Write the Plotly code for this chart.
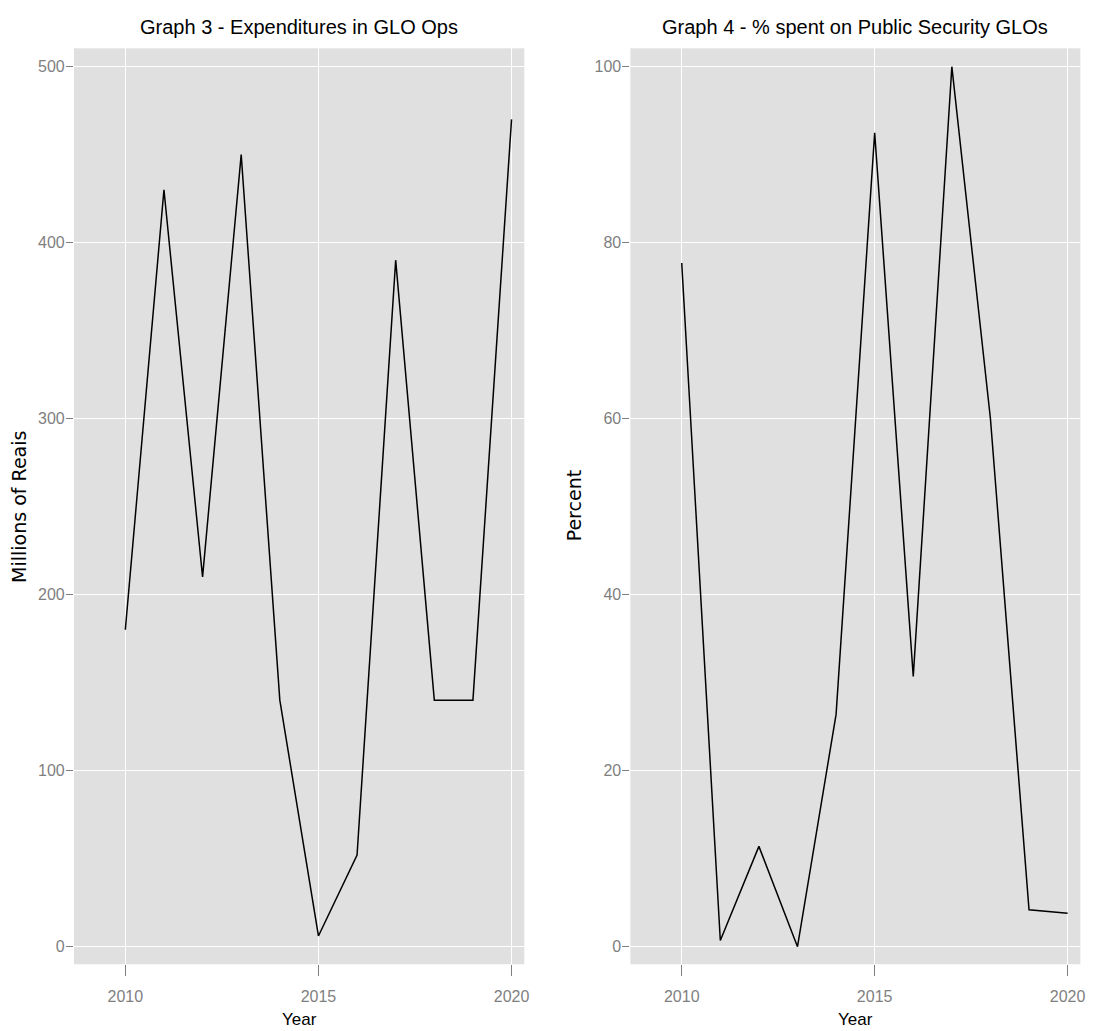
import plotly.graph_objects as go

years = [2010, 2011, 2012, 2013, 2014, 2015, 2016, 2017, 2018, 2019, 2020]
expenditures = [180, 430, 210, 450, 140, 6, 52, 390, 140, 140, 470]
percent_public = [77.7, 0.7, 11.4, 0.0, 26.4, 92.5, 30.7, 100.0, 60.0, 4.2, 3.8]

title_left = "Graph 3 - Expenditures in GLO Ops"
title_right = "Graph 4 - % spent on Public Security GLOs"
ylab_left = "Millions of Reais"
ylab_right = "Percent"
xlab = "Year"

W, H = 1096, 1031
NARROW = "Liberation Sans Narrow, Arial Narrow, Liberation Sans, Arial, sans-serif"
WIDE = "DejaVu Sans, Verdana, sans-serif"

fig = go.Figure()
fig.add_trace(go.Scatter(x=years, y=expenditures, mode="lines",
                         line=dict(color="black", width=1.5), xaxis="x", yaxis="y",
                         showlegend=False))
fig.add_trace(go.Scatter(x=years, y=percent_public, mode="lines",
                         line=dict(color="black", width=1.5), xaxis="x2", yaxis="y2",
                         showlegend=False))

def px_x(v):
    return v / W

def px_y(v):
    return (H - v) / H

dom_left = [px_x(74.3), px_x(526.7)]
dom_right = [px_x(633.3), px_x(1085.3)]
dom_y = [px_y(964.3), px_y(48.3)]

grid = dict(showgrid=True, gridcolor="white", gridwidth=1.2, zeroline=False,
            showline=False, ticks="outside", tickcolor="#7F7F7F", tickwidth=1,
            tickfont=dict(family=NARROW, size=16, color="#7F7F7F"))
xcommon = dict(ticklen=11, ticklabelstandoff=6, **grid)
ycommon = dict(ticklen=7, ticklabelstandoff=-2, **grid)

fig.update_layout(
    width=W, height=H,
    margin=dict(l=0, r=0, t=0, b=0),
    paper_bgcolor="white",
    plot_bgcolor="#E0E0E0",
    xaxis=dict(domain=dom_left, range=[2008.67, 2020.33], tickvals=[2010, 2015, 2020],
               anchor="y", **xcommon),
    yaxis=dict(domain=dom_y, range=[-10.1, 510.4], tickvals=[0, 100, 200, 300, 400, 500],
               anchor="x", **ycommon),
    xaxis2=dict(domain=dom_right, range=[2008.67, 2020.33], tickvals=[2010, 2015, 2020],
                anchor="y2", **xcommon),
    yaxis2=dict(domain=dom_y, range=[-2.0, 102.09], tickvals=[0, 20, 40, 60, 80, 100],
                anchor="x2", **ycommon),
)

ann = []
for txt, cx in ((title_left, 300.5), (title_right, 859.3)):
    ann.append(dict(text=txt, x=px_x(cx), y=px_y(27), xref="paper", yref="paper",
                    showarrow=False, xanchor="center", yanchor="middle",
                    font=dict(family=NARROW, size=20, color="black")))
for cx in (300.5, 859.3):
    ann.append(dict(text=xlab, x=px_x(cx), y=px_y(1019), xref="paper", yref="paper",
                    showarrow=False, xanchor="center", yanchor="middle",
                    font=dict(family=NARROW, size=17, color="black")))
ann.append(dict(text=ylab_left, x=px_x(19), y=px_y(507), xref="paper", yref="paper",
                showarrow=False, xanchor="center", yanchor="middle", textangle=-90,
                font=dict(family=WIDE, size=19, color="black")))
ann.append(dict(text=ylab_right, x=px_x(577), y=px_y(505), xref="paper", yref="paper",
                showarrow=False, xanchor="center", yanchor="middle", textangle=-90,
                font=dict(family=WIDE, size=19, color="black")))
fig.update_layout(annotations=ann)

fig.write_html(
    "out.html",
    config={"displayModeBar": False},
    post_script="document.body.style.margin='0';document.body.style.overflow='hidden';",
)
